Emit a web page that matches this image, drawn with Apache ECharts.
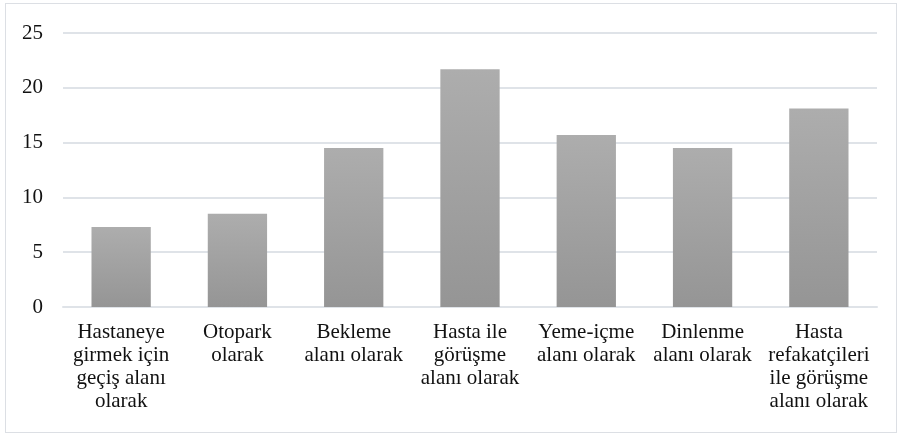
<!DOCTYPE html>
<html>
<head>
<meta charset="utf-8">
<script src="https://cdn.jsdelivr.net/npm/echarts@6/dist/echarts.min.js"></script>
<style>
    html, body { margin: 0; padding: 0; background: #fff; }
    .wrap { position: relative; width: 898px; height: 435px; }
    #chart { width: 898px; height: 435px; }
    .frame {
        position: absolute; left: 5px; top: 3px; width: 890px; height: 428px;
        border: 1px solid #dcdfe4; pointer-events: none;
    }
</style>
</head>
<body>
<div class="wrap">
    <div id="chart"></div>
    <div class="frame"></div>
</div>
<script>
var categories = [
    'Hastaneye\ngirmek için\ngeçiş alanı\nolarak',
    'Otopark\nolarak',
    'Bekleme\nalanı olarak',
    'Hasta ile\ngörüşme\nalanı olarak',
    'Yeme-içme\nalanı olarak',
    'Dinlenme\nalanı olarak',
    'Hasta\nrefakatçileri\nile görüşme\nalanı olarak'
];
var values = [7.3, 8.5, 14.5, 21.7, 15.7, 14.5, 18.1];
var yTicks = [0, 5, 10, 15, 20, 25];

var myChart = echarts.init(document.getElementById('chart'));
var font = 'Times New Roman, Liberation Serif, serif';
var option = {
    animation: false,
    textStyle: { fontFamily: font },
    grid: {
        left: 63,
        right: 21,
        top: 33,
        bottom: 128
    },
    xAxis: {
        type: 'category',
        data: categories,
        axisLine: {
            lineStyle: { color: '#dfe3e8', width: 2 }
        },
        axisTick: { show: false },
        axisLabel: {
            interval: 0,
            margin: 14,
            color: '#111',
            fontFamily: font,
            fontSize: 21,
            lineHeight: 23,
            align: 'center'
        }
    },
    yAxis: {
        type: 'value',
        min: yTicks[0],
        max: yTicks[yTicks.length - 1],
        interval: 5,
        axisLine: { show: false },
        axisTick: { show: false },
        splitLine: {
            lineStyle: { color: '#dfe3e8', width: 2 }
        },
        axisLabel: {
            margin: 20,
            color: '#111',
            fontFamily: font,
            fontSize: 21
        }
    },
    series: [
        {
            type: 'bar',
            data: values,
            barWidth: '51%',
            itemStyle: {
                color: new echarts.graphic.LinearGradient(0, 0, 0, 1, [
                    { offset: 0, color: '#adadad' },
                    { offset: 1, color: '#959595' }
                ])
            }
        }
    ]
};
myChart.setOption(option, true);
</script>
</body>
</html>
